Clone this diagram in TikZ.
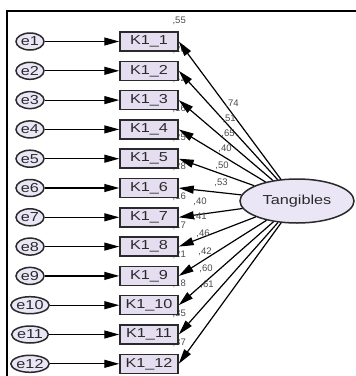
\documentclass[tikz,border=0pt]{standalone}
\usepackage{fontspec}
\setmainfont{Liberation Sans}
\newfontfamily\widesans[FakeStretch=1.25]{Liberation Sans}
\usetikzlibrary{shapes.geometric,arrows.meta}
\definecolor{boxfill}{HTML}{E4DEF0}
\definecolor{ovalfill}{HTML}{EAE6F6}
\definecolor{ink}{HTML}{2A2A2A}
\tikzset{
  indicator/.style={draw=ink, line width=1.5pt, fill=boxfill, minimum width=58pt,
    minimum height=19pt, inner sep=0pt, text=ink, font=\widesans\fontsize{13}{13}\selectfont},
  errterm/.style={ellipse, draw=ink, line width=1.5pt, fill=ovalfill, minimum width=28pt,
    minimum height=17pt, inner sep=0pt, text=ink, font=\widesans\fontsize{13}{13}\selectfont},
  latent/.style={ellipse, draw=ink, line width=1.5pt, fill=ovalfill, minimum width=114pt,
    minimum height=44pt, inner sep=0pt, text=ink, font=\widesans\fontsize{13}{13}\selectfont},
  regpath/.style={draw=black, line width=1.2pt, -{Triangle[length=15pt,width=8pt]}},
  est/.style={font=\fontsize{9.5}{9.5}\selectfont, text=ink!85, inner sep=0pt},
  frameline/.style={line width=2pt, draw=black}
}
\begin{document}
\begin{tikzpicture}[x=1pt,y=-1pt]
\useasboundingbox (0,0) rectangle (356,376);
% outer frame
\coordinate (ftr) at (356,11);
\coordinate (ftl) at (7,11);
\coordinate (fbl) at (7,376);
\draw[frameline] (ftr) -- (ftl) -- (fbl);

% squared multiple correlations (drawn first, partly covered by the boxes)
\foreach \i/\r in {1/55,2/26,3/42,4/16,5/25,6/28,7/16,8/17,9/21,10/18,11/35,12/37}{
  \pgfmathsetmacro\yy{41.5+(\i-1)*29.3}
  \node[est, anchor=east] (r\i) at (186,\yy-21) {,\r};
}

% observed items, error terms and error paths
\foreach \i in {1,...,12}{
  \pgfmathsetmacro\yy{41.5+(\i-1)*29.3}
  \node[indicator] (k\i) at (149,\yy) {K1\_\i};
  \node[errterm] (e\i) at (30,\yy) {e\i};
  \draw[regpath] (e\i) -- (k\i);
}

% latent factor
\node[latent] (t) at (297,201) {Tangibles};

% factor loadings
\foreach \i/\l/\x/\y in {1/74/232/104, 2/51/229/119, 3/65/228/134, 4/40/225/149,
  5/50/222/166, 6/53/221/183, 7/40/200/202, 8/41/200/217, 9/46/203/234,
  10/42/205/252, 11/60/206/269, 12/61/207/285}{
  \draw[regpath] (t) -- (k\i.east);
  \node[est] (l\i) at (\x,\y) {,\l};
}
\end{tikzpicture}
\end{document}
